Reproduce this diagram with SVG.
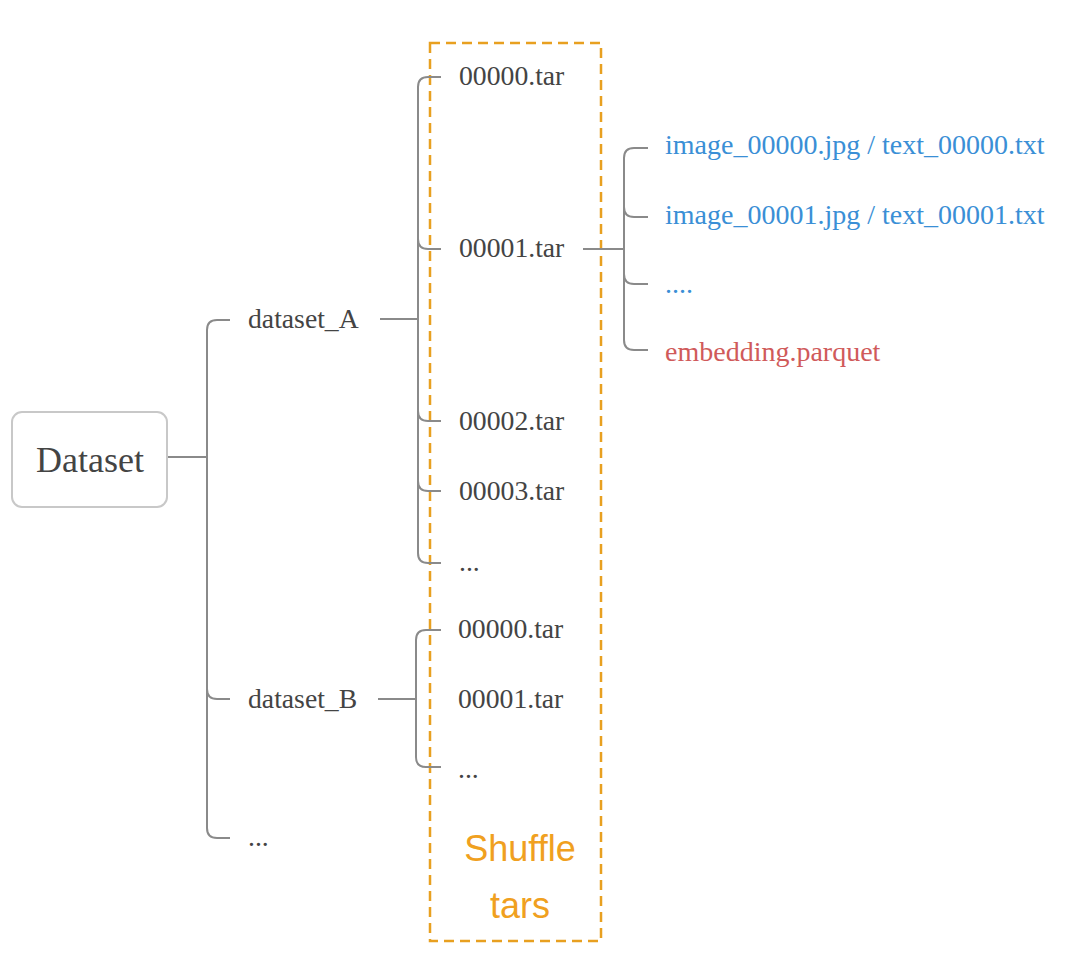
<svg xmlns="http://www.w3.org/2000/svg" width="1080" height="963" viewBox="0 0 1080 963">
<style>
.t{font-family:"Liberation Serif","Times New Roman",serif;font-size:27.7px;fill:#444}
.b{font-family:"Liberation Serif","Times New Roman",serif;font-size:28px;fill:#3a8fd6}
.r{font-family:"Liberation Serif","Times New Roman",serif;font-size:28px;fill:#d05a5a}
.c{fill:none;stroke:#8a8a8a;stroke-width:2}
.s{font-family:"Liberation Sans",Arial,sans-serif;font-size:36px;fill:#f0a020}
</style>
<rect width="1080" height="963" fill="#fff"/>
<g id="shuffle-box">
<rect x="430" y="43" width="171" height="898" fill="none" stroke="#e8a020" stroke-width="2.5" stroke-dasharray="10 6"/>
<text class="s" x="520" y="861" text-anchor="middle">Shuffle</text>
<text class="s" x="520" y="918" text-anchor="middle">tars</text>
</g>
<g id="connectors">
<path class="c" d="M167,457 H207"/>
<path class="c" d="M230,320 H217 Q207,320 207,330 V828 Q207,838 217,838 H230"/>
<path class="c" d="M207,689 Q207,699 217,699 H230"/>
<path class="c" d="M380,319 H418"/>
<path class="c" d="M441,77 H428 Q418,77 418,87 V553 Q418,563 428,563 H441"/>
<path class="c" d="M418,239 Q418,249 428,249 H441"/>
<path class="c" d="M418,411 Q418,421 428,421 H441"/>
<path class="c" d="M418,481 Q418,491 428,491 H441"/>
<path class="c" d="M583,249 H624"/>
<path class="c" d="M648,148 H634 Q624,148 624,158 V340 Q624,350 634,350 H648"/>
<path class="c" d="M624,207 Q624,217 634,217 H648"/>
<path class="c" d="M624,274 Q624,284 634,284 H648"/>
<path class="c" d="M378,699 H416"/>
<path class="c" d="M441,630 H426 Q416,630 416,640 V757 Q416,767 426,767 H441"/>
</g>
<g id="dataset">
<rect x="12" y="412" width="155" height="95" rx="10" fill="#fff" stroke="#c8c8c8" stroke-width="2"/>
<text class="t" x="90" y="472" text-anchor="middle" style="font-size:36px">Dataset</text>
</g>
<g id="dataset_A"><text class="t" x="248" y="328">dataset_A</text></g>
<g id="dataset_B"><text class="t" x="248" y="708">dataset_B</text></g>
<g id="dataset_more"><text class="t" x="248" y="846">...</text></g>
<g id="a-00000"><text class="t" x="459" y="85">00000.tar</text></g>
<g id="a-00001"><text class="t" x="459" y="257">00001.tar</text></g>
<g id="a-00002"><text class="t" x="459" y="430">00002.tar</text></g>
<g id="a-00003"><text class="t" x="459" y="500">00003.tar</text></g>
<g id="a-more"><text class="t" x="459" y="571">...</text></g>
<g id="b-00000"><text class="t" x="458" y="638">00000.tar</text></g>
<g id="b-00001"><text class="t" x="458" y="708">00001.tar</text></g>
<g id="b-more"><text class="t" x="458" y="778">...</text></g>
<g id="f-0"><text class="b" x="665" y="154">image_00000.jpg / text_00000.txt</text></g>
<g id="f-1"><text class="b" x="665" y="224">image_00001.jpg / text_00001.txt</text></g>
<g id="f-more"><text class="b" x="665" y="293">....</text></g>
<g id="f-emb"><text class="r" x="665" y="361">embedding.parquet</text></g>
</svg>
